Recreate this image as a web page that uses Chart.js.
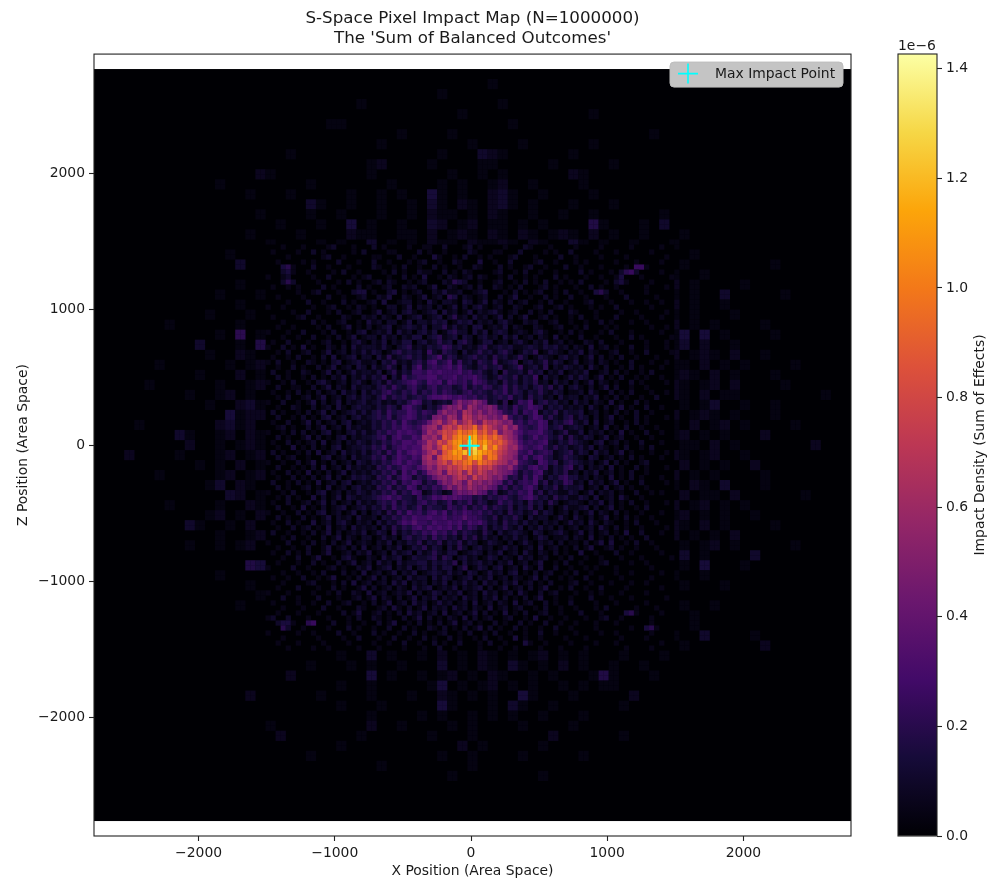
<!DOCTYPE html>
<html>
<head>
<meta charset="utf-8">
<title>S-Space Pixel Impact Map</title>
<script src="https://cdn.jsdelivr.net/npm/chart.js@4"></script>
<style>
  body { margin: 0; background: #fff; }
  canvas { position: absolute; top: 0; display: block; }
  #map { left: 0; }
  #bar { left: 870px; }
</style>
</head>
<body>
<canvas id="map" width="990" height="881"></canvas>
<canvas id="bar" width="120" height="881"></canvas>
<script>
/* ========== DATA ========== */
const chartTitle = ["S-Space Pixel Impact Map (N=1000000)", "The 'Sum of Balanced Outcomes'"];
const xLabel = "X Position (Area Space)";
const zLabel = "Z Position (Area Space)";
const barLabel = "Impact Density (Sum of Effects)";
const barExponent = "1e\u22126";
const legendLabel = "Max Impact Point";
const maxPoint = [-10, -5];

const xLimits = [-2768, 2790];
const zLimits = [-2875, 2875];
const zExtent = [-2765, 2765];
const xTicks = [-2000, -1000, 0, 1000, 2000];
const zTicks = [-2000, -1000, 0, 1000, 2000];
const binCount = 150;
const barMax = 1.427;
const barTicks = [0, 0.2, 0.4, 0.6, 0.8, 1.0, 1.2, 1.4];
const levelChars = "0123456789abcdefghijklmnopqrs";
const levelStep = 0.05; // one character step, in units of 1e-6
const outerLevelStep = 0.035; // same, for the dim outer rows

const infernoStops = ["#000004", "#160b39", "#420a68", "#6a176e", "#932667", "#bc3754",
  "#dd513a", "#f37819", "#fca50a", "#f6d746", "#fcffa4"];

// whole picture, 2x2 bins per character, top row first
const outerRows = [
  "",
  "0000000000000000000000000000000000000001",
  "0000000000000000000000000000000000100000",
  "00000000000000000000000000100000000000001",
  "00000000000000000000000000000000000010000000000001",
  "00000000000000000000000110000000000000000100000000",
  "0000000000000000000000000000001000010000000000000000000100000",
  "00000000000000000000000000001000000001000010000001",
  "00000000000000000001000000000000001000321000000100",
  "00000000000000000000000000012000010000110000010000010",
  "00000000000000002100000000010000000100101000000210",
  "00000000000010000000010000000100001010012001000010",
  "0000000000000001000100000100101004101002310010000100",
  "0000000000000000000003100100100103102102310100010001",
  "000000000000000010000100100010010211010210010010010000001",
  "0000000000000000001000100401001003201201101010000510001030",
  "0000000000000001000010000211001102012102102101210201001000100",
  "000000000000000001000010100301010211021121021003101001000100",
  "000000000000010000100100210120112011202120121011201010010001",
  "00000000000000300100010100120120112012101203110112010051001000000001",
  "0000000000000000000410010201101202120112021312010210251021001000000000",
  "00000000000000100103101020120121212042121021201211010210020100001",
  "00000000000010001010211010023031202131212112021201213010010100300000100",
  "00000000000000100101012021012121321204122312121021120211020100100000",
  "00000000000100010010120102120123122312232132312120210201210100010",
  "00000001000000100201010211021232231323232322132212120121020101000010",
  "0000000000001060120121012012232332423233234232321221021001404010000100",
  "00000000003000105201120121233434333333333434342321212012113020010",
  "000000000001002103122012123" + "333333333333333333333" + "232121021201210200100000000",
  "000000100000010120112102134" + "333333333333333333333" + "342212102110201010000100000",
  "000000000010002011221201233" + "333333333333333333333" + "432312120121020100010000000",
  "000001000000100122012312234" + "333333333333333333333" + "342321201210120200001000000",
  "000000000100120101231213245" + "333333333333333333333" + "524232121210201100000000100",
  "000000000001002312120223345" + "333333333333333333333" + "433212121010130010010000000",
  "000000000000041221212323456" + "333333333333333333333" + "534323121201210100010000000",
  "000010000000231202121234356" + "333333333333333333333" + "643423212102012010000100000",
  "000000003100120212312343467" + "333333333333333333333" + "654322312120101000200000000",
  "000000000200101212123233456" + "333333333333333333333" + "543421212011020100000002000",
  "000200001000120121231234356" + "333333333333333333333" + "534323121210120010000000000",
  "000000000010102012122323445" + "333333333333333333333" + "453212312020101002000000000",
  "000000100000120121312232345" + "333333333333333333333" + "534322121201010000100000000",
  "000000000001302102121323334" + "333333333333333333333" + "433212120102103000100000000",
  "000000000000032012122123245" + "333333333333333333333" + "324232121020110200000010000",
  "000000010000100210212122334" + "333333333333333333333" + "332312101201201010000000000",
  "000000000001201021212213234" + "333333333333333333333" + "423212120120101001000000000",
  "000000000310010201212122323" + "333333333333333333333" + "322312101210201000010000000",
  "000000000000100120102121223" + "333333333333333333333" + "312212010201010200000000000",
  "000000000100101202112021223" + "333333333333333333333" + "213312102010120100000100000",
  "000000000000000003001012012112122321212121021021021020102030100003",
  "00000000000000054001012010301221212212121210123012012100201040001",
  "000000000000100002010012012012212212131221021102102010100100100",
  "0000000000000001001010010201210212121212121201210210102010100010",
  "00000000000000001000100102012121321202121021211010201001",
  "0000000000000010001000101201021021212101201210120101002010100100",
  "0000000000000000010010010012102012102120120201102010201400010",
  "000000000000000000004500010201012012102120121021100100104001",
  "000000000000000001000100100120102101020121012012010010010100300001",
  "000000000000000000000010010102010210121010120100300100100010000000200",
  "0000000000000000000000001003010010201021010120101000100010",
  "00000000000000000000010001010010003010210310102010010010",
  "00000000000000000002000000040100101201021001010001510001",
  "000000000000000000000000100100000140101201010010101100",
  "00000000000000020000001000010001002101010041000100000200",
  "0000000000000000000000001000100000410001031001000000100",
  "0000000000000000000000000001000010100101010010001",
  "00000000000000000100000000020010000101000010000100",
  "00000000000000000020000000100000010001000000020000001",
  "0000000000000000000000001000000000002010000010",
  "00000000000000000000010000000000001001000010000010",
  "000000000000000000000000000010000000010",
  "00000000000000000000000000000000000100000000100",
  "",
  "",
  "",
  ""
];

// middle of the picture, one bin per character
const centreRows = [
  "000100010000120001000201000010011002000120100001000210001000010000100000100000100",
  "010000100201000001020000110000201001000021000110002000010100200001000100000010000",
  "000010000001200100000110002001000310010200101000120001000020010000100001000000010",
  "001000010100002000100200100010120010021000300100200001200100010100000100010000100",
  "000341000200100010000210010200100201001002100020100120010002001000100001055100000",
  "000231001000010200100001020100211002010210000120010200100100002010001024520000100",
  "100120000100200001012000100201030010210120210010200101000201000100100130001000001",
  "000242000010001020100120210010120002143200100120010201020010102000010231000010000",
  "010010100002010000201001200212001300210120200210102000120100010020100100000100010",
  "000000100120001002330100230101200213112001230001020101200102001003420010000100000",
  "001000010000200100120021300210130120430210120020130010020100200100010002000001000",
  "000010002001000201001203001220103102210320130210201200102001000120001000100100100",
  "100100000100120010210100220130212020130202310120021001200120100010100200000010000",
  "000001002000102001200130120231012303120130212310120020102000210001000010010000010",
  "010000120010000210021202103012301230241203120130201300120100102001000200001000100",
  "000100000201001200103120220130221323013230212023100212001200100100201000100100000",
  "001001000010200130102012301232130224131203301213021002100120010200010100000010010",
  "100010020001020010230121303120231301342203130232012102310010201000102000100000100",
  "000100100200102013012203120213302341230320231203130120210301002001000100201000001",
  "010020001001200102310213021330231242303420133012023102130120100210200010000100010",
  "10020103010021020312" + "22131023412132354231213412323112321323120" + "21030120100200100010",
  "00102001200130120213" + "13201342323152143203124231342013240132102" + "13021001200100200001",
  "01001020010203012302" + "20314123423134624312342314231242013210231" + "20130201020010001000",
  "10200100210102301231" + "12032412134256346252314325123402312413201" + "30120210100200010010",
  "00100201002013012032" + "03124203146245456463213423412351231402132" + "12031020010201000100",
  "02001002100130201312" + "21302413255465655564534213042231423021301" + "21300120201001020000",
  "00201001020102130213" + "13240315345566455645564312432413250312013" + "13201301020010100100",
  "10010200102310120231" + "02314234564365636545365423142313241203120" + "20130210100201000010",
  "00200110020130210312" + "21342532453245344235243542352423134241302" + "31020130200100100000",
  "01001020102012031203" + "13245324352435354324534324352431324213201" + "12031002010200010010",
  "00102001201301202313" + "21352434234356676565453423435231423120312" + "20213010201001002000",
  "10020010130201302123" + "12312132465231232" + "7a89b97" + "23140254613423120" + "31202103010020100000",
  "00100210020120310232" + "213243156431324" + "8a9b7ca89a8" + "342534654132312" + "12031020130100200100",
  "02010010201302012313" + "13425344653543" + "8b9a7dc9b8a97" + "43525461324132" + "23012010201020010000",
  "00200102010230120231" + "2343524565343" + "9a8cb7edacb9a8c" + "5342465242134" + "13202013010020100010",
  "01002001302012023012" + "132435364345" + "8bd9cfadfb9ecdb9a" + "453546513245" + "21303012001020100000",
  "00120100201301203121" + "13243546545" + "9bc8efdhfgjdhecad9b" + "54346523412" + "32012030102001001000",
  "10010202010230102313" + "12435465654" + "8cadgfhkijlgieh9cb8" + "64556431241" + "13021201030100200100",
  "00201001302010230212" + "23452564465" + "bac9hfjlkmnikhjgdb9" + "53464532414" + "21320130120010010000",
  "01002010120301202132" + "13243546657" + "9dbgeilmjpnkmjhifca" + "64545621324" + "32102301201002000100",
  "00100301020102301223" + "24352456566" + "bdaejhkngmqjoilgebc" + "75456424231" + "23130210102001020000",
  "02010010203012031213" + "13425364676" + "9ceahjmlokpnlkifdba" + "54634541234" + "13203120130100010010",
  "00201200100230120312" + "24352465465" + "bd8fijklhlnmgkjecb9" + "46356431243" + "21032012010201000100",
  "10010020130102012032" + "13243564654" + "acbegdihjkgkihfdc9b" + "54326534134" + "32120130201001200000",
  "00200101020301203121" + "21435346546" + "8b9dcfegihdgefca9b7" + "43564513245" + "13021203010020100010",
  "01002010301020130212" + "132435264635" + "9ac8edfbgcfdbca98" + "524356213241" + "20213012010200100000",
  "00100201020130201323" + "2143524652435" + "8ab9cedafcdb9a7" + "3425364132453" + "31202103010201000100",
  "02001020103012023012" + "13243525465243" + "7a9cb8dab9a87" + "35245462413254" + "12031201301002000010",
  "00201001201030120231" + "214352436524354" + "7a8b9ca9a87" + "352435641324132" + "23012030120100100000",
  "10010200102301202132" + "13243524365124312" + "7989a87" + "35124354624132113" + "20130212010020010100",
  "00102010030201303212" + "23456453325346576765534243453245642314231" + "13203012031001000000",
  "01002001201302012031" + "21343524324534235243524312534231423142012" + "21021302010200100010",
  "00200103010201230123" + "13242534235243325435243524324132413020131" + "12302013010010200000",
  "10010020102301201302" + "02314253645356463546545342314231241320120" + "20130210201001000100",
  "00201002010130212031" + "12032435465565564557554324132420312201310" + "31020130102010010000",
  "01002010030120231021" + "20313246575546556564656423142313120212013" + "12031021001020001000",
  "00100201201030120312" + "12031424356465656463542413242130213120201" + "20120310201001000010",
  "02001001020130201213" + "01320413243546453524321420312321032012310" + "13020120103002000100",
  "00010200100201302102" + "20131203423425342314241312021312013201120" + "21030102010100200000",
  "10002001020102013012" + "10213021324132413241320132102013102120201" + "10201303001020010000",
  "00100100200130120203" + "01202130132413203142023120131201203012010" + "20130012010010001000",
  "010020102001300120213012031230312421330123202130120310210201003001000200100000100",
  "000100200130010231002103123013223414302312013202103120120010200100100010001000001",
  "001000100201002013012031203122331323240312312021301201300102001000120000100100000",
  "100002001000120100213012302130231313302401320230120310300200100101000100000010000",
  "000100100102000201030120130213012321312032013120230102012001020010000100100000100",
  "010010020010130010201302012031220313201230213012021013020010100200100010000010000",
  "000100001200010203012012031302120213021312031202130120102000120010001000100100000",
  "001000200010020100130201202103123012130212302013012020130010200100200001000000100",
  "100010000100102002103012012130201320213012031201203100201200010010100010000100000",
  "000200100020001001201302102013021302120312021302010201300100100020001000100000010",
  "010000100100200120010201301203120131201203012021030120020100200001000100000100000",
  "000100010002001000210012031020130212031202103012012001020010010001020000010001000",
  "001000100010000201300120102031201203012013020103010200120010002000100003410000100",
  "120020001000100010200210100201302010210302012001200103001001000100120010000010000",
  "002331004500020010010020130010201020130120100201002010020010010001000100000010000",
  "000420010000100020100100200201002102010201302010020100100200100001000000100341000",
  "100000100100002001000201001002010012001020010200100100200100010000100100000010000",
  "000100000010000100200010020010020100201001020010030100100001000100000010000100000",
  "001000100001000010000100100200100201002000102001000310010000100001000100000000100",
  "000010000100100000100010000100010020010000100010010000100010000100000001000010000"
];
const centreFirstCol = 34;
const centreFirstRow = 35;

/* ========== BINS -> POINTS ========== */
const binW = (xLimits[1] - xLimits[0]) / binCount;
const binH = (zExtent[1] - zExtent[0]) / binCount;
const centreSize = centreRows.length;

function addBin(list, col, row, ch, step) {
  const level = levelChars.indexOf(ch);
  if (level <= 0) return;
  list.push({
    x: xLimits[0] + binW * (col + 0.5),
    y: zExtent[1] - binH * (row + 0.5),
    v: level * step,
  });
}

const cells = [];
outerRows.forEach((rowText, r) => {
  for (let c = 0; c < rowText.length; c++) {
    [[0, 0], [1, 0], [0, 1], [1, 1]].forEach(([dc, dr]) => {
      const col = c * 2 + dc;
      const row = r * 2 + dr;
      const inCentre = col >= centreFirstCol && col < centreFirstCol + centreSize &&
        row >= centreFirstRow && row < centreFirstRow + centreSize;
      if (!inCentre) addBin(cells, col, row, rowText[c], outerLevelStep);
    });
  }
});
centreRows.forEach((rowText, r) => {
  for (let c = 0; c < rowText.length; c++) {
    addBin(cells, centreFirstCol + c, centreFirstRow + r, rowText[c], levelStep);
  }
});

/* ========== COLOUR MAP ========== */
function hexToRgb(hex) {
  return [1, 3, 5].map((i) => parseInt(hex.substr(i, 2), 16));
}

function infernoColor(value) {
  const t = Math.min(1, Math.max(0, value / barMax)) * (infernoStops.length - 1);
  const i = Math.min(infernoStops.length - 2, Math.floor(t));
  const a = hexToRgb(infernoStops[i]);
  const b = hexToRgb(infernoStops[i + 1]);
  const f = t - i;
  return `rgb(${a.map((ch, k) => Math.round(ch + (b[k] - ch) * f)).join(",")})`;
}

/* ========== MAIN PICTURE ========== */
const FONT = "'DejaVu Sans', sans-serif";
const TICK_SIZE = 13.9;
const TEXT_COLOR = "#1a1a1a";

function minusLabel(value) {
  return String(value).replace("-", "\u2212");
}

const imagePlugin = {
  id: "imageBackground",
  beforeDatasetsDraw(chart) {
    const { ctx, scales } = chart;
    const left = scales.x.getPixelForValue(xLimits[0]);
    const right = scales.x.getPixelForValue(xLimits[1]);
    const top = scales.y.getPixelForValue(zExtent[1]);
    const bottom = scales.y.getPixelForValue(zExtent[0]);
    ctx.save();
    ctx.fillStyle = infernoStops[0];
    ctx.fillRect(left, top, right - left, bottom - top);
    ctx.restore();
  },
  afterDraw(chart) {
    const { ctx, chartArea } = chart;
    ctx.save();
    // axes frame
    ctx.strokeStyle = "#222";
    ctx.lineWidth = 1.1;
    ctx.strokeRect(chartArea.left, chartArea.top, chartArea.width, chartArea.height);
    // legend box, inside the upper right corner
    const boxLeft = chartArea.right - 181;
    const boxTop = chartArea.top + 8;
    ctx.fillStyle = "#c4c4c4";
    ctx.strokeStyle = "#bdbdbd";
    ctx.lineWidth = 1;
    ctx.beginPath();
    ctx.roundRect(boxLeft, boxTop, 173, 25, 4);
    ctx.fill();
    ctx.stroke();
    ctx.strokeStyle = "#00ffff";
    ctx.lineWidth = 1.6;
    ctx.beginPath();
    ctx.moveTo(boxLeft + 8, boxTop + 11.5);
    ctx.lineTo(boxLeft + 28, boxTop + 11.5);
    ctx.moveTo(boxLeft + 18, boxTop + 1.5);
    ctx.lineTo(boxLeft + 18, boxTop + 21.5);
    ctx.stroke();
    ctx.fillStyle = TEXT_COLOR;
    ctx.font = `${TICK_SIZE}px ${FONT}`;
    ctx.textBaseline = "middle";
    ctx.fillText(legendLabel, boxLeft + 45, boxTop + 12);
    ctx.restore();
  },
};

new Chart(document.getElementById("map"), {
  type: "scatter",
  data: {
    datasets: [
      {
        label: "Impact density",
        data: cells,
        order: 2,
        pointStyle: "rect",
        pointBorderWidth: 0,
        pointRadius: (c) => {
          const s = c.chart.scales.x;
          return (s.getPixelForValue(binW) - s.getPixelForValue(0) + 0.2) * Math.SQRT1_2;
        },
        pointBackgroundColor: (c) => (c.raw ? infernoColor(c.raw.v) : "#000"),
      },
      {
        label: legendLabel,
        data: [{ x: maxPoint[0], y: maxPoint[1] }],
        order: 1,
        pointStyle: "cross",
        pointRadius: 10,
        pointBorderColor: "#00ffff",
        pointBorderWidth: 2,
      },
    ],
  },
  options: {
    responsive: false,
    animation: false,
    events: [],
    layout: { padding: { left: 0, top: 0, right: 139, bottom: 0 } },
    plugins: {
      legend: { display: false },
      tooltip: { enabled: false },
      title: {
        display: true,
        fullSize: false,
        text: chartTitle,
        color: TEXT_COLOR,
        font: { family: FONT, size: 16.7, weight: "normal", lineHeight: 1.2 },
        padding: { top: 9, bottom: 5 },
      },
    },
    scales: {
      x: {
        type: "linear",
        min: xLimits[0],
        max: xLimits[1],
        afterFit: (s) => { s.height = 45; },
        afterBuildTicks: (s) => { s.ticks = xTicks.map((value) => ({ value })); },
        grid: { drawOnChartArea: false, tickLength: 5, tickColor: "#222", tickWidth: 1.1 },
        border: { display: false },
        ticks: {
          maxRotation: 0,
          padding: 4,
          color: TEXT_COLOR,
          font: { family: FONT, size: TICK_SIZE },
          callback: minusLabel,
        },
        title: {
          display: true,
          text: xLabel,
          color: TEXT_COLOR,
          font: { family: FONT, size: TICK_SIZE },
          padding: { top: 0, bottom: 1 },
        },
      },
      y: {
        type: "linear",
        min: zLimits[0],
        max: zLimits[1],
        afterFit: (s) => { s.width = 94; },
        afterBuildTicks: (s) => { s.ticks = zTicks.map((value) => ({ value })); },
        grid: { drawOnChartArea: false, tickLength: 5, tickColor: "#222", tickWidth: 1.1 },
        border: { display: false },
        ticks: {
          padding: 4,
          color: TEXT_COLOR,
          font: { family: FONT, size: TICK_SIZE },
          callback: minusLabel,
        },
        title: {
          display: true,
          text: zLabel,
          color: TEXT_COLOR,
          font: { family: FONT, size: TICK_SIZE },
          padding: { top: 15, bottom: 0 },
        },
      },
    },
  },
  plugins: [imagePlugin],
});

/* ========== COLOUR BAR ========== */
const barPlugin = {
  id: "colourBarText",
  afterDraw(chart) {
    const { ctx, chartArea } = chart;
    ctx.save();
    ctx.strokeStyle = "#222";
    ctx.lineWidth = 1.1;
    ctx.strokeRect(chartArea.left, chartArea.top, chartArea.width, chartArea.height);
    ctx.fillStyle = TEXT_COLOR;
    ctx.font = `${TICK_SIZE}px ${FONT}`;
    ctx.textBaseline = "alphabetic";
    ctx.fillText(barExponent, chartArea.left, chartArea.top - 4);
    ctx.translate(110, (chartArea.top + chartArea.bottom) / 2);
    ctx.rotate(-Math.PI / 2);
    ctx.textAlign = "center";
    ctx.textBaseline = "middle";
    ctx.fillText(barLabel, 0, 0);
    ctx.restore();
  },
};

new Chart(document.getElementById("bar"), {
  type: "bar",
  data: {
    labels: [""],
    datasets: [
      {
        data: [[0, barMax]],
        barPercentage: 1,
        categoryPercentage: 1,
        backgroundColor: (c) => {
          const area = c.chart.chartArea;
          if (!area) return infernoStops[5];
          const g = c.chart.ctx.createLinearGradient(0, area.bottom, 0, area.top);
          infernoStops.forEach((stop, i) => g.addColorStop(i / (infernoStops.length - 1), stop));
          return g;
        },
      },
    ],
  },
  options: {
    responsive: false,
    animation: false,
    events: [],
    layout: { padding: { left: 28, top: 54, right: 0, bottom: 45 } },
    plugins: { legend: { display: false }, tooltip: { enabled: false } },
    scales: {
      x: { display: false },
      y: {
        position: "right",
        min: 0,
        max: barMax,
        afterFit: (s) => { s.width = 53; },
        afterBuildTicks: (s) => { s.ticks = barTicks.map((value) => ({ value })); },
        grid: { drawOnChartArea: false, tickLength: 5, tickColor: "#222", tickWidth: 1.1 },
        border: { display: false },
        ticks: {
          padding: 4,
          color: TEXT_COLOR,
          font: { family: FONT, size: TICK_SIZE },
          callback: (v) => v.toFixed(1),
        },
      },
    },
  },
  plugins: [barPlugin],
});
</script>
</body>
</html>
